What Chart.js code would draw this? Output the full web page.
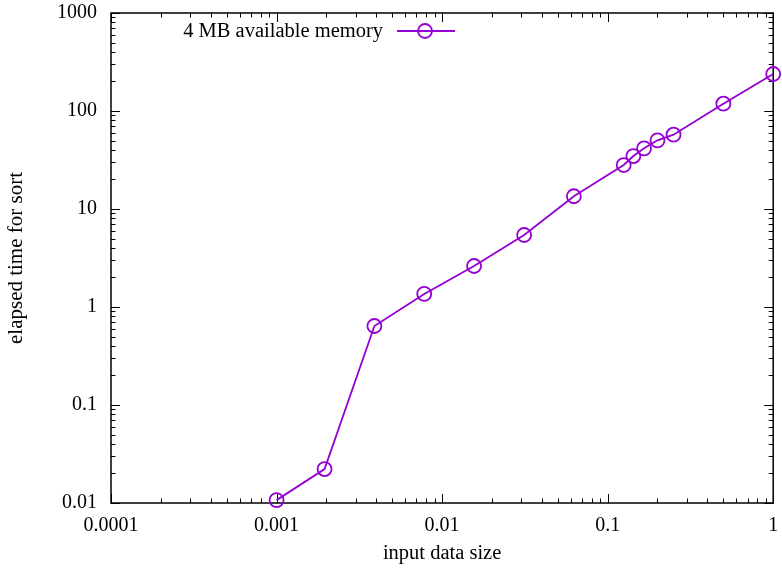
<!DOCTYPE html>
<html>
<head>
<meta charset="utf-8">
<script src="https://cdn.jsdelivr.net/npm/chart.js@4"></script>
<style>
  html, body { margin: 0; padding: 0; background: #fff; }
  #wrap { width: 782px; height: 572px; }
</style>
</head>
<body>
<div id="wrap"><canvas id="sortChart"></canvas></div>
<script>
// input size vs. elapsed sort time, log-log
const sizes = [0.001, 0.00195, 0.0039, 0.0078, 0.0156, 0.0313, 0.0625, 0.125, 0.143, 0.166, 0.2, 0.25, 0.5, 1];
const times = [0.0107, 0.0222, 0.64, 1.36, 2.62, 5.43, 13.5, 28.1, 34.7, 41.6, 50.2, 57.3, 118.7, 238.6];
const xTicks = [0.0001, 0.001, 0.01, 0.1, 1];
const yTicks = [0.01, 0.1, 1, 10, 100, 1000];
const seriesName = '4 MB available memory';
const lineColor = '#9400d3';
const serif = '"Liberation Serif", "Times New Roman", serif';

Chart.defaults.font.family = serif;
Chart.defaults.font.size = 20;
Chart.defaults.color = '#000';

// gnuplot-like border with inward ticks on all four sides
const frame = {
  id: 'frame',
  beforeDatasetsDraw(chart) {
    const { ctx, chartArea: a, scales } = chart;
    ctx.save();
    ctx.strokeStyle = '#000';
    ctx.lineWidth = 1.5;
    ctx.strokeRect(a.left, a.top, a.right - a.left, a.bottom - a.top);
    ctx.lineWidth = 1;
    const mark = (scale, majors, horiz) => {
      majors.forEach((d, i) => {
        const vals = [[d, 9]];
        if (i < majors.length - 1) for (let k = 2; k <= 9; k++) vals.push([d * k, 4.5]);
        vals.forEach(([v, len]) => {
          const p = Math.round(scale.getPixelForValue(v)) + 0.5;
          ctx.beginPath();
          if (horiz) {
            ctx.moveTo(p, a.bottom); ctx.lineTo(p, a.bottom - len);
            ctx.moveTo(p, a.top); ctx.lineTo(p, a.top + len);
          } else {
            ctx.moveTo(a.left, p); ctx.lineTo(a.left + len, p);
            ctx.moveTo(a.right, p); ctx.lineTo(a.right - len, p);
          }
          ctx.stroke();
        });
      });
    };
    mark(scales.x, xTicks, true);
    mark(scales.y, yTicks, false);
    ctx.restore();
  },
  afterDraw(chart) {
    // key: text on the left, line sample with marker on the right
    const { ctx } = chart;
    const y = 31;
    ctx.save();
    ctx.font = '20.5px ' + serif;
    ctx.fillStyle = '#000';
    ctx.textAlign = 'right';
    ctx.textBaseline = 'middle';
    ctx.fillText(seriesName, 383, y + 1);
    ctx.strokeStyle = lineColor;
    ctx.lineWidth = 1.8;
    ctx.beginPath();
    ctx.moveTo(397, y); ctx.lineTo(455, y);
    ctx.stroke();
    ctx.beginPath();
    ctx.arc(425, y, 7, 0, Math.PI * 2);
    ctx.stroke();
    ctx.restore();
  }
};

new Chart(document.getElementById('sortChart'), {
  type: 'line',
  data: {
    datasets: [{
      label: seriesName,
      data: sizes.map((s, i) => ({ x: s, y: times[i] })),
      borderColor: lineColor,
      borderWidth: 1.8,
      pointRadius: 7,
      pointBorderWidth: 1.8,
      pointBackgroundColor: 'rgba(0,0,0,0)',
      pointBorderColor: lineColor,
      tension: 0,
      clip: false
    }]
  },
  options: {
    responsive: true,
    maintainAspectRatio: false,
    animation: false,
    layout: { padding: { left: 0, right: 7, top: 13, bottom: 0 } },
    plugins: { legend: { display: false }, tooltip: { enabled: false } },
    scales: {
      x: {
        type: 'logarithmic',
        min: 0.0001,
        max: 1,
        afterBuildTicks: s => { s.ticks = xTicks.map(v => ({ value: v })); },
        afterFit: s => { s.height = 69; s.paddingLeft = 0; s.paddingRight = 0; },
        grid: { display: false, drawTicks: false },
        border: { display: false },
        ticks: { padding: 11, maxRotation: 0, autoSkip: false, callback: v => String(v) },
        title: { display: true, text: 'input data size', font: { size: 20.5 }, padding: { top: 6, bottom: 6 } }
      },
      y: {
        type: 'logarithmic',
        min: 0.01,
        max: 1000,
        afterBuildTicks: s => { s.ticks = yTicks.map(v => ({ value: v })); },
        afterFit: s => { s.width = 111; s.paddingTop = 0; s.paddingBottom = 0; },
        grid: { display: false, drawTicks: false },
        border: { display: false },
        ticks: { padding: 14, autoSkip: false, callback: v => String(v) },
        title: { display: true, text: 'elapsed time for sort', font: { size: 21 }, padding: { top: 4, bottom: 0 } }
      }
    }
  },
  plugins: [frame]
});
</script>
</body>
</html>
